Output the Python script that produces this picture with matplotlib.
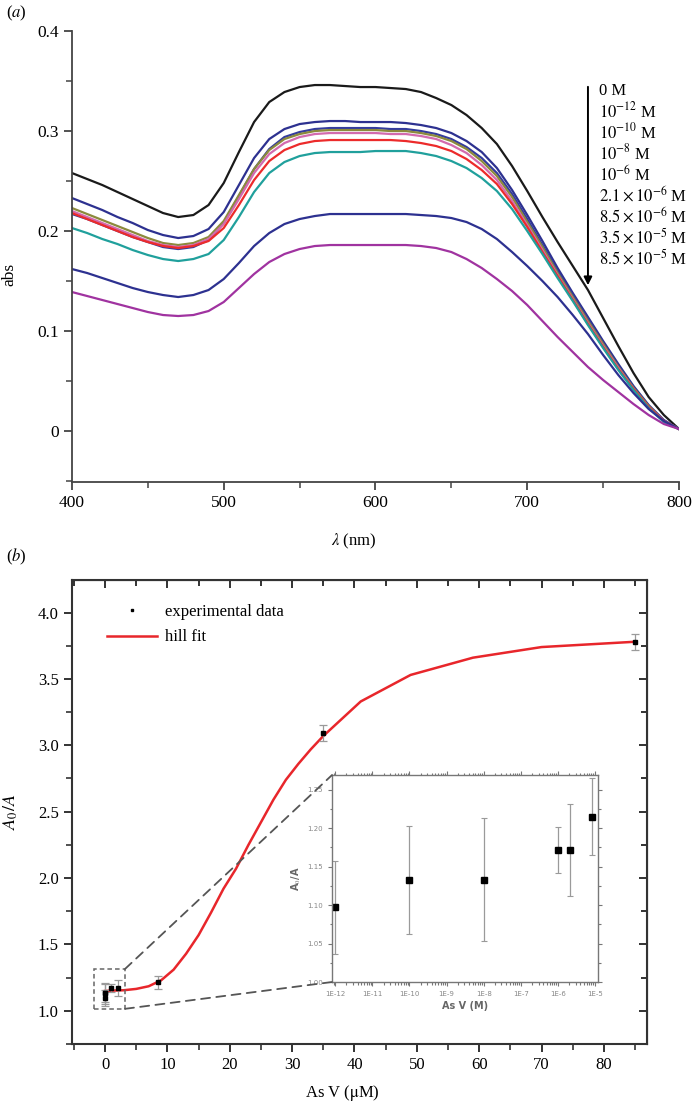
import numpy as np
import matplotlib.pyplot as plt
from matplotlib.patches import Rectangle, ConnectionPatch
from matplotlib.lines import Line2D
from matplotlib.ticker import MultipleLocator, FixedLocator, LogLocator, NullFormatter

plt.rcParams['font.family'] = ['Liberation Serif', 'DejaVu Serif']
plt.rcParams['mathtext.fontset'] = 'stix'

# ---- panel (a): absorption spectra ----
wl = np.arange(400, 801, 10)

abs_0 = [0.258, 0.252, 0.246, 0.239, 0.232, 0.225, 0.218, 0.214, 0.216, 0.226, 0.248,
         0.279, 0.309, 0.329, 0.339, 0.344, 0.346, 0.346, 0.345, 0.344, 0.344, 0.343,
         0.342, 0.339, 0.333, 0.326, 0.316, 0.303, 0.287, 0.265, 0.240, 0.214, 0.189,
         0.165, 0.141, 0.113, 0.085, 0.058, 0.034, 0.016, 0.002]
abs_1 = [0.233, 0.227, 0.221, 0.214, 0.208, 0.201, 0.196, 0.193, 0.195, 0.202, 0.219,
         0.246, 0.273, 0.292, 0.302, 0.307, 0.309, 0.310, 0.310, 0.309, 0.309, 0.309,
         0.308, 0.306, 0.303, 0.298, 0.290, 0.279, 0.263, 0.241, 0.216, 0.190, 0.163,
         0.138, 0.114, 0.090, 0.067, 0.045, 0.026, 0.011, 0.002]
abs_2 = [0.217, 0.212, 0.206, 0.200, 0.194, 0.189, 0.184, 0.182, 0.184, 0.191, 0.208,
         0.235, 0.262, 0.282, 0.294, 0.299, 0.302, 0.303, 0.303, 0.303, 0.303, 0.302,
         0.302, 0.300, 0.297, 0.292, 0.284, 0.273, 0.258, 0.237, 0.212, 0.186, 0.160,
         0.136, 0.112, 0.088, 0.065, 0.044, 0.025, 0.010, 0.002]
abs_3 = [0.223, 0.217, 0.211, 0.205, 0.199, 0.193, 0.188, 0.186, 0.188, 0.194, 0.210,
         0.236, 0.262, 0.281, 0.292, 0.297, 0.300, 0.301, 0.301, 0.301, 0.301, 0.300,
         0.300, 0.298, 0.295, 0.290, 0.282, 0.270, 0.255, 0.234, 0.209, 0.184, 0.158,
         0.134, 0.110, 0.087, 0.064, 0.043, 0.025, 0.010, 0.002]
abs_4 = [0.220, 0.214, 0.208, 0.202, 0.196, 0.190, 0.186, 0.184, 0.186, 0.192, 0.207,
         0.232, 0.258, 0.277, 0.288, 0.294, 0.297, 0.298, 0.298, 0.298, 0.298, 0.297,
         0.297, 0.295, 0.292, 0.286, 0.278, 0.266, 0.251, 0.230, 0.206, 0.181, 0.156,
         0.132, 0.108, 0.085, 0.063, 0.042, 0.024, 0.010, 0.002]
abs_5 = [0.218, 0.212, 0.206, 0.200, 0.194, 0.189, 0.185, 0.183, 0.185, 0.190, 0.203,
         0.226, 0.251, 0.270, 0.281, 0.287, 0.290, 0.291, 0.291, 0.291, 0.291, 0.291,
         0.290, 0.288, 0.285, 0.280, 0.272, 0.261, 0.247, 0.227, 0.204, 0.179, 0.155,
         0.131, 0.107, 0.084, 0.062, 0.042, 0.024, 0.010, 0.002]
abs_6 = [0.203, 0.198, 0.192, 0.187, 0.181, 0.176, 0.172, 0.170, 0.172, 0.177, 0.191,
         0.214, 0.239, 0.258, 0.269, 0.275, 0.278, 0.279, 0.279, 0.279, 0.280, 0.280,
         0.280, 0.278, 0.275, 0.270, 0.263, 0.253, 0.240, 0.222, 0.200, 0.177, 0.153,
         0.130, 0.106, 0.083, 0.061, 0.041, 0.023, 0.009, 0.002]
abs_7 = [0.162, 0.158, 0.153, 0.148, 0.143, 0.139, 0.136, 0.134, 0.136, 0.141, 0.152,
         0.168, 0.185, 0.198, 0.207, 0.212, 0.215, 0.217, 0.217, 0.217, 0.217, 0.217,
         0.217, 0.216, 0.215, 0.213, 0.209, 0.202, 0.192, 0.179, 0.165, 0.150, 0.134,
         0.116, 0.097, 0.076, 0.056, 0.038, 0.022, 0.010, 0.002]
abs_8 = [0.139, 0.135, 0.131, 0.127, 0.123, 0.119, 0.116, 0.115, 0.116, 0.120, 0.129,
         0.143, 0.157, 0.169, 0.177, 0.182, 0.185, 0.186, 0.186, 0.186, 0.186, 0.186,
         0.186, 0.185, 0.183, 0.179, 0.172, 0.163, 0.152, 0.140, 0.126, 0.110, 0.094,
         0.079, 0.064, 0.051, 0.039, 0.027, 0.016, 0.007, 0.002]

spectra = [abs_0, abs_1, abs_2, abs_3, abs_4, abs_5, abs_6, abs_7, abs_8]
spec_colors = ['#1a1a1a', '#2d3190', '#343c9e', '#8c8a3c', '#d36aae', '#ec2b2b',
               '#20a09c', '#2d3190', '#a033a0']
conc_labels = ['0 M', r'$10^{-12}$ M', r'$10^{-10}$ M', r'$10^{-8}$ M', r'$10^{-6}$ M',
               r'$2.1\times10^{-6}$ M', r'$8.5\times10^{-6}$ M',
               r'$3.5\times10^{-5}$ M', r'$8.5\times10^{-5}$ M']
abs_ticks = [0, 0.1, 0.2, 0.3, 0.4]
abs_ticklabels = ['0', '0.1', '0.2', '0.3', '0.4']

# ---- panel (b): A0/A vs As V ----
fit_x = [0, 3, 5, 7, 9, 11, 13, 15, 17, 19, 21, 23, 25, 27, 29, 31, 33, 35, 41, 49, 59, 70, 85]
fit_y = [1.15, 1.155, 1.165, 1.185, 1.23, 1.31, 1.43, 1.57, 1.74, 1.92, 2.07, 2.25, 2.42,
         2.59, 2.74, 2.86, 2.97, 3.07, 3.33, 3.53, 3.66, 3.74, 3.78]

conc_M = [1e-12, 1e-10, 1e-8, 1e-6, 2.1e-6, 8.5e-6, 3.5e-5, 8.5e-5]
ratio = [1.097, 1.133, 1.133, 1.172, 1.172, 1.215, 3.09, 3.78]
ratio_err = [0.06, 0.07, 0.08, 0.03, 0.06, 0.05, 0.06, 0.06]
conc_uM = [c * 1e6 for c in conc_M]

inset_ticks = [1e-12, 1e-11, 1e-10, 1e-9, 1e-8, 1e-7, 1e-6, 1e-5]
inset_ticklabels = ['1E-12', '1E-11', '1E-10', '1E-9', '1E-8', '1E-7', '1E-6', '1E-5']

fig = plt.figure(figsize=(6.94, 11.05), dpi=100)

# panel (a)
ax1 = fig.add_axes([0.1037, 0.5638, 0.8747, 0.4081])
for y, c in zip(spectra, spec_colors):
    ax1.plot(wl, y, color=c, lw=1.6)
ax1.set_xlim(400, 800)
ax1.set_ylim(-0.051, 0.4)
ax1.spines['top'].set_visible(False)
ax1.spines['right'].set_visible(False)
for s in ['left', 'bottom']:
    ax1.spines[s].set_linewidth(1.3)
    ax1.spines[s].set_color('#444444')
ax1.xaxis.set_major_locator(MultipleLocator(100))
ax1.xaxis.set_minor_locator(MultipleLocator(50))
ax1.yaxis.set_major_locator(FixedLocator(abs_ticks))
ax1.set_yticklabels(abs_ticklabels)
ax1.yaxis.set_minor_locator(MultipleLocator(0.05))
ax1.tick_params(which='major', direction='out', length=6, width=1.3, color='#444444',
                labelsize=12.5)
ax1.tick_params(which='minor', direction='out', length=4, width=1.1, color='#444444')
ax1.set_xlabel(r'$\lambda$ (nm)', fontsize=12)
ax1.xaxis.set_label_coords(0.465, -0.11)
ax1.set_ylabel('abs', fontsize=12.5)
ax1.yaxis.set_label_coords(-0.09, 0.46)

ax1.annotate('', xy=(740, 0.143), xytext=(740, 0.347),
             arrowprops=dict(arrowstyle='-|>', color='black', lw=1.4,
                             mutation_scale=12))
for i, lab in enumerate(conc_labels):
    ax1.text(747, 0.3405 - i * 0.021, lab, fontsize=12, va='center', ha='left')

fig.text(0.008, 0.988, r'($\mathit{a}$)', fontsize=12, va='center')

# panel (b)
ax2 = fig.add_axes([0.1037, 0.0552, 0.8285, 0.4199])
ax2.plot(fit_x, fit_y, color='#e8262b', lw=1.8, zorder=3)
ax2.errorbar(conc_uM, ratio, yerr=ratio_err, fmt='s', ms=2.2, color='black',
             ecolor='#9a9a9a', elinewidth=0.9, capsize=3, capthick=0.9, zorder=4)
ax2.set_xlim(-5.3, 86.9)
ax2.set_ylim(0.75, 4.245)
ax2.xaxis.set_major_locator(MultipleLocator(10))
ax2.xaxis.set_minor_locator(MultipleLocator(5))
ax2.yaxis.set_major_locator(MultipleLocator(0.5))
ax2.yaxis.set_minor_locator(MultipleLocator(0.25))
ax2.yaxis.set_major_formatter(plt.FormatStrFormatter('%.1f'))
for s in ax2.spines.values():
    s.set_linewidth(1.5)
    s.set_color('#333333')
ax2.tick_params(which='major', direction='out', length=6, width=1.4, color='#333333',
                labelsize=12)
ax2.tick_params(which='minor', direction='out', length=4, width=1.2, color='#333333')

# mirrored inward ticks on top and right
top = ax2.secondary_xaxis('top')
top.xaxis.set_major_locator(MultipleLocator(10))
top.xaxis.set_minor_locator(MultipleLocator(5))
top.tick_params(which='both', direction='in', labeltop=False, width=1.4, color='#333333')
top.tick_params(which='major', length=6)
top.tick_params(which='minor', length=4)
right = ax2.secondary_yaxis('right')
right.yaxis.set_major_locator(MultipleLocator(0.5))
right.yaxis.set_minor_locator(MultipleLocator(0.25))
right.tick_params(which='both', direction='in', labelright=False, width=1.4, color='#333333')
right.tick_params(which='major', length=6)
right.tick_params(which='minor', length=4)

ax2.set_xlabel(r'As V ($\mathrm{\mu}$M)', fontsize=12)
ax2.xaxis.set_label_coords(0.47, -0.085)
ax2.set_ylabel(r'$A_0/A$', fontsize=13)
ax2.yaxis.set_label_coords(-0.09, 0.5)

leg_handles = [Line2D([], [], marker='s', ms=2, color='black', ls='none'),
               Line2D([], [], color='#e8262b', lw=1.8)]
ax2.legend(leg_handles, ['experimental data', 'hill fit'], loc='upper left',
           bbox_to_anchor=(0.035, 0.98), frameon=False, fontsize=12,
           handlelength=3.0, handletextpad=0.5, labelspacing=0.55)

box = Rectangle((-1.76, 1.015), 4.96, 0.30, fill=False, ls=(0, (3, 2)),
                lw=1.1, edgecolor='#666666', zorder=5)
ax2.add_patch(box)

fig.text(0.008, 0.496, r'($\mathit{b}$)', fontsize=12, va='center')

# inset
ax3 = fig.add_axes([0.4784, 0.1113, 0.3833, 0.1873])
ax3.errorbar(conc_M[:6], ratio[:6], yerr=ratio_err[:6], fmt='s', ms=4, color='black',
             ecolor='#9a9a9a', elinewidth=0.9, capsize=2, capthick=0.8)
ax3.set_xscale('log')
ax3.set_xlim(8.2e-13, 1.2e-5)
ax3.set_ylim(1.0, 1.269)
ax3.xaxis.set_major_locator(FixedLocator(inset_ticks))
ax3.set_xticklabels(inset_ticklabels)
ax3.xaxis.set_minor_locator(LogLocator(base=10, subs=np.arange(2, 10), numticks=20))
ax3.xaxis.set_minor_formatter(NullFormatter())
ax3.yaxis.set_major_locator(MultipleLocator(0.05))
ax3.yaxis.set_minor_locator(MultipleLocator(0.025))
ax3.yaxis.set_major_formatter(plt.FormatStrFormatter('%.2f'))
for s in ax3.spines.values():
    s.set_linewidth(1.0)
    s.set_color('#777777')
ax3.tick_params(which='both', direction='out', color='#777777', labelcolor='#888888',
                labelsize=5, top=True, right=True, width=0.8)
ax3.tick_params(which='major', length=3)
ax3.tick_params(which='minor', length=1.8)
for lab in ax3.get_xticklabels() + ax3.get_yticklabels():
    lab.set_family('DejaVu Sans')
ax3.set_xlabel('As V (M)', fontsize=7, fontweight='bold', color='#666666',
               family='DejaVu Sans', labelpad=3)
ax3.set_ylabel(r'A$_0$/A', fontsize=7, fontweight='bold', color='#666666',
               family='DejaVu Sans', labelpad=3)

for frac, pt in [((0, 1), (3.2, 1.315)), ((0, 0), (3.2, 1.015))]:
    con = ConnectionPatch(xyA=pt, coordsA=ax2.transData, xyB=frac,
                          coordsB=ax3.transAxes, color='#555555', lw=1.3,
                          ls=(0, (5, 3.5)), zorder=2)
    fig.add_artist(con)

fig.savefig('out.png', dpi=100)
